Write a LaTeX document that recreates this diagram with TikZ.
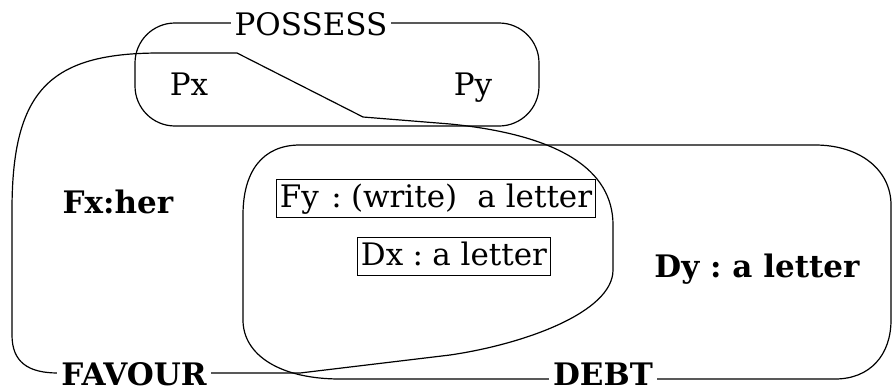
\documentclass[tikz,border=0pt]{standalone}
\usepackage{fontspec}
\setmainfont{DejaVu Serif}
\usetikzlibrary{positioning}

\begin{document}
\begin{tikzpicture}[x=0.5pt,y=-0.5pt,line width=0.6pt,
    every node/.style={font=\fontsize{15.5}{18}\selectfont,inner sep=1pt},
    bold/.style={font=\fontsize{15.5}{18}\selectfont\bfseries},
    tag/.style={fill=white,inner xsep=2pt},
    framed/.style={draw,line width=0.5pt,inner xsep=1.5pt,inner ysep=1pt,text height=13pt,text depth=4pt}]
    \useasboundingbox (0,0) rectangle (893,391);
    % possess
    \draw[rounded corners=20pt] (135,23) rectangle (539,126);
    \node[anchor=base] (px) at (189,95) {Px};
    \node[anchor=base] (py) at (473,95) {Py};
    % favour
    \draw (12,210) -- (12,335) .. controls (12,362) and (28,373) .. (58,373) -- (300,373) -- (450,355)
        .. controls (525,344) and (613,312) .. (613,270) -- (613,225)
        .. controls (613,170) and (560,135) .. (450,124) -- (363,117) -- (237,53) -- (160,53)
        .. controls (50,53) and (12,90) .. (12,210) -- cycle;
    % debt
    \draw (300,145) -- (815,145) .. controls (860,145) and (891,170) .. (891,205) -- (891,320)
        .. controls (891,355) and (870,379) .. (835,379) -- (340,379)
        .. controls (280,379) and (243,355) .. (243,320) -- (243,215)
        .. controls (243,172) and (262,145) .. (300,145) -- cycle;
    \node[tag,anchor=base] (possess) at (311,35) {POSSESS};
    \node[tag,bold,anchor=base] (favour) at (134,385) {FAVOUR};
    \node[tag,bold,anchor=base] (debt) at (603,385) {DEBT};
    \node[bold,anchor=base] (fx) at (118,213) {Fx:her};
    \node[bold,anchor=base] (dy) at (757,277) {Dy\hspace{.35em}:\hspace{.35em}a letter};
    \node[framed,minimum width=159pt] (fy) at (436,198) {Fy\hspace{.4em}:\hspace{.3em}(write)\hspace{.65em}a letter};
    \node[framed,minimum width=96pt] (dx) at (454,256.5) {Dx\hspace{.3em}:\hspace{.3em}a letter};
\end{tikzpicture}
\end{document}
